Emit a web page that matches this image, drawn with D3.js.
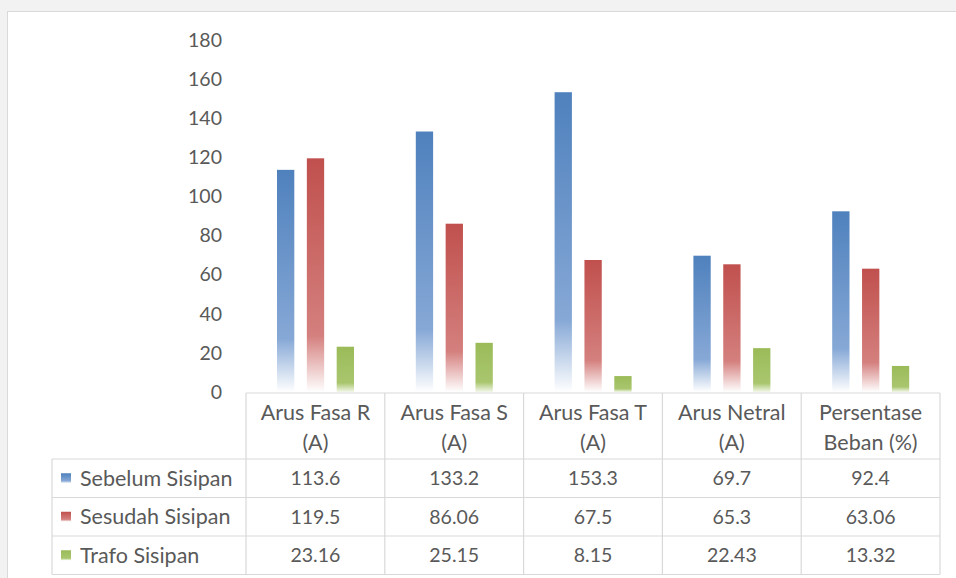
<!DOCTYPE html>
<html>
<head>
<meta charset="utf-8">
<script src="https://cdn.jsdelivr.net/npm/d3@7"></script>
<style>
  body { margin: 0; background: #f2f2f2; }
  svg { display: block; }
  text { font-family: Lato, "Open Sans", sans-serif; fill: #595959; }
</style>
</head>
<body>
<svg width="956" height="578"></svg>
<script>
var categories = ["Arus Fasa R|(A)", "Arus Fasa S|(A)", "Arus Fasa T|(A)", "Arus Netral|(A)", "Persentase|Beban (%)"];
var series = ["Sebelum Sisipan", "Sesudah Sisipan", "Trafo Sisipan"];
var sebelum = [113.6, 133.2, 153.3, 69.7, 92.4];
var sesudah = [119.5, 86.06, 67.5, 65.3, 63.06];
var trafo = [23.16, 25.15, 8.15, 22.43, 13.32];
var labels = [
  ["113.6", "133.2", "153.3", "69.7", "92.4"],
  ["119.5", "86.06", "67.5", "65.3", "63.06"],
  ["23.16", "25.15", "8.15", "22.43", "13.32"]
];
var yTicks = [0, 20, 40, 60, 80, 100, 120, 140, 160, 180];
var colors = ["#4f81bd", "#c0504d", "#9bbb59"];
var mids = ["#86a8d6", "#d4807e", "#a9c66e"];

var values = [sebelum, sesudah, trafo];

var svg = d3.select("svg");

// white chart panel
svg.append("rect")
    .attr("x", 7.5).attr("y", 11.5)
    .attr("width", 960).attr("height", 580)
    .attr("fill", "#fff")
    .attr("stroke", "#d9d9d9");

var defs = svg.append("defs");
series.forEach(function(s, i) {
  var g = defs.append("linearGradient")
      .attr("id", "grad" + i)
      .attr("x1", 0).attr("y1", 0).attr("x2", 0).attr("y2", 1);
  g.append("stop").attr("offset", "0%").attr("stop-color", colors[i]);
  g.append("stop").attr("offset", i == 2 ? "80%" : "76%").attr("stop-color", mids[i]);
  g.append("stop").attr("offset", "100%").attr("stop-color", i == 2 ? "#f3f7ea" : "#ffffff");
});

var x0 = d3.scaleBand().domain(categories).range([246, 940]);
var x1 = d3.scaleBand().domain(series).range([31, 108]).paddingInner(0.42);
var y = d3.scaleLinear().domain([0, 180]).range([392, 40]);

var numSize = "19.5px", txtSize = "21.5px";

// y labels
svg.append("g").selectAll("text")
    .data(yTicks)
    .enter().append("text")
      .attr("x", 222)
      .attr("y", function(d) { return y(d); })
      .attr("dy", "0.35em")
      .attr("text-anchor", "end")
      .style("font-size", numSize)
      .text(function(d) { return d; });

// bars
var bars = svg.append("g");
series.forEach(function(s, i) {
  bars.selectAll(".bar" + i)
    .data(values[i])
    .enter().append("rect")
      .attr("class", "bar" + i)
      .attr("x", function(d, j) { return x0(categories[j]) + x1(s); })
      .attr("width", x1.bandwidth())
      .attr("y", function(d) { return y(d); })
      .attr("height", function(d) { return y(0) - y(d); })
      .attr("fill", "url(#grad" + i + ")");
});

// data table
var tableLeft = 52, headTop = 393, headBottom = 459, rowH = 38.5;
var tbl = svg.append("g")
    .attr("fill", "none")
    .attr("stroke", "#d9d9d9")
    .attr("stroke-width", 1.2);

tbl.append("line")
    .attr("x1", x0.range()[0]).attr("x2", x0.range()[1])
    .attr("y1", headTop).attr("y2", headTop);
[0, 1, 2, 3].forEach(function(r) {
  tbl.append("line")
      .attr("x1", tableLeft).attr("x2", x0.range()[1])
      .attr("y1", headBottom + r * rowH).attr("y2", headBottom + r * rowH);
});
tbl.append("line")
    .attr("x1", tableLeft).attr("x2", tableLeft)
    .attr("y1", headBottom).attr("y2", headBottom + 3 * rowH);
categories.forEach(function(c, j) {
  tbl.append("line")
      .attr("x1", x0(c)).attr("x2", x0(c))
      .attr("y1", headTop).attr("y2", headBottom + 3 * rowH);
});
tbl.append("line")
    .attr("x1", x0.range()[1]).attr("x2", x0.range()[1])
    .attr("y1", headTop).attr("y2", headBottom + 3 * rowH);

// header labels
categories.forEach(function(c) {
  var parts = c.split("|");
  parts.forEach(function(p, k) {
    svg.append("text")
        .attr("x", x0(c) + x0.bandwidth() / 2)
        .attr("y", 412 + k * 30)
        .attr("dy", "0.35em")
        .attr("text-anchor", "middle")
        .style("font-size", txtSize)
        .text(p);
  });
});

// rows
series.forEach(function(s, i) {
  var cy = headBottom + rowH * i + rowH / 2;
  svg.append("rect")
      .attr("x", 61).attr("y", cy - 5)
      .attr("width", 10).attr("height", 10)
      .attr("fill", "url(#grad" + i + ")");
  svg.append("text")
      .attr("x", 80).attr("y", cy)
      .attr("dy", "0.35em")
      .style("font-size", txtSize)
      .text(s);
  labels[i].forEach(function(v, j) {
    svg.append("text")
        .attr("x", x0(categories[j]) + x0.bandwidth() / 2)
        .attr("y", cy)
        .attr("dy", "0.35em")
        .attr("text-anchor", "middle")
        .style("font-size", numSize)
        .text(v);
  });
});
</script>
</body>
</html>
